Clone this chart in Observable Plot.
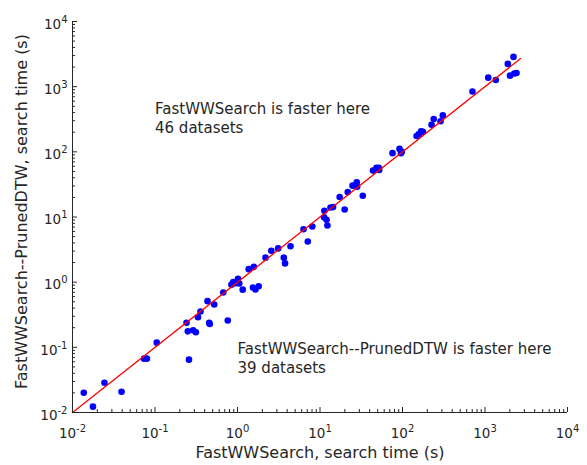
<!DOCTYPE html>
<html>
<head>
<meta charset="utf-8">
<script src="https://cdn.jsdelivr.net/npm/d3@7"></script>
<script src="https://cdn.jsdelivr.net/npm/@observablehq/plot@0.6"></script>
<style>
  body { margin: 0; background: #fff; }
  #chart svg { display: block; }
</style>
</head>
<body>
<div id="chart"></div>
<script>
// FastWWSearch search time (s) for each dataset
const fastWW = [
  0.0137, 0.0177, 0.0244, 0.0393, 0.0736, 0.0797, 0.105, 0.241, 0.250, 0.290,
  0.313, 0.258, 0.332, 0.356, 0.433, 0.522, 0.454, 0.461, 0.762, 0.672,
  0.845, 0.887, 1.014, 1.05, 0.946, 1.157, 1.367, 1.577, 1.54, 1.652,
  1.807, 2.185, 2.57, 3.11, 3.64, 3.77, 4.39, 6.31, 8.07, 7.11,
  11.3, 11.2, 12.0, 12.3, 13.4, 14.4, 17.3, 19.9, 21.7, 24.8,
  27.9, 28.2, 33.0, 43.9, 48.4, 51.6, 52.2, 75.7, 92.0, 95.9,
  98.1, 148, 158, 168, 177, 225, 239, 289, 308, 705,
  1094, 1352, 1890, 2215, 2010, 2265, 2410
];
// FastWWSearch--PrunedDTW search time (s) for each dataset
const pruned = [
  0.0201, 0.0123, 0.0286, 0.0208, 0.067, 0.067, 0.118, 0.238, 0.176, 0.183,
  0.170, 0.0647, 0.290, 0.354, 0.511, 0.454, 0.237, 0.228, 0.258, 0.695,
  0.916, 1.0, 1.125, 0.955, 0.966, 0.767, 1.585, 1.719, 0.828, 0.773,
  0.867, 2.38, 3.03, 3.30, 2.38, 1.94, 3.56, 6.47, 7.14, 4.20,
  12.5, 9.89, 9.06, 7.40, 14.0, 14.2, 20.3, 13.0, 24.1, 30.3,
  34.2, 29.2, 21.2, 51.5, 56.7, 56.7, 52.8, 95.5, 111, 95.5,
  100, 175, 187, 207, 203, 260, 318, 294, 362, 844,
  1375, 1268, 2235, 2864, 1476, 1596, 1625
];
// diagonal reference line y = x
const diagX = [0.01, 2700];
const diagY = [0.01, 2700];
// axis ticks
const majorTicks = [1e-2, 1e-1, 1e0, 1e1, 1e2, 1e3, 1e4];
const tickLabels = ["10^-2", "10^-1", "10^0", "10^1", "10^2", "10^3", "10^4"];
const minorTicks = d3.scaleLog().domain([1e-2, 1e4]).ticks().filter(t => !majorTicks.some(m => Math.abs(m - t) / m < 1e-9));
const annotations = [
  {x: 0.1, y: 335, text: "FastWWSearch is faster here\n46 datasets"},
  {x: 1, y: 0.069, text: "FastWWSearch--PrunedDTW is faster here\n39 datasets"}
];

const W = 587, H = 465, mL = 72, mR = 20, mT = 21, mB = 53;
const plotW = W - mL - mR, plotH = H - mT - mB;
const ink = "#262626";
const points = fastWW.map((x, i) => ({x, y: pruned[i]}));
const diag = diagX.map((x, i) => ({x, y: diagY[i]}));
const labelOf = t => tickLabels[majorTicks.indexOf(t)];

const chart = Plot.plot({
  width: W, height: H,
  marginLeft: mL, marginRight: mR, marginTop: mT, marginBottom: mB,
  style: {fontFamily: "DejaVu Sans", color: ink, background: "#fff"},
  x: {type: "log", domain: [1e-2, 1e4]},
  y: {type: "log", domain: [1e-2, 1e4]},
  marks: [
    Plot.dot(points, {x: "x", y: "y", r: 3.3, fill: "#0000ff", stroke: "none"}),
    Plot.line(diag, {x: "x", y: "y", stroke: "#ff0000", strokeWidth: 1.3}),
    // axis lines
    Plot.ruleX([1e-2], {stroke: ink, strokeWidth: 1}),
    Plot.ruleY([1e-2], {stroke: ink, strokeWidth: 1}),
    // inward tick marks
    Plot.tickX(majorTicks, {x: d => d, insetTop: plotH - 5, stroke: ink}),
    Plot.tickX(minorTicks, {x: d => d, insetTop: plotH - 3, stroke: ink}),
    Plot.tickY(majorTicks, {y: d => d, insetRight: plotW - 5, stroke: ink}),
    Plot.tickY(minorTicks, {y: d => d, insetRight: plotW - 3, stroke: ink}),
    // tick labels
    Plot.axisX(majorTicks, {tickSize: 0, tickPadding: 15.5, fontSize: 13.5, tickFormat: labelOf, label: null, fill: ink}),
    Plot.axisY(majorTicks, {tickSize: 0, tickPadding: 5, fontSize: 13.5, dy: 3, tickFormat: labelOf, label: null, fill: ink}),
    // axis titles
    Plot.text(["FastWWSearch, search time (s)"], {frameAnchor: "bottom", textAnchor: "middle", dy: 45, lineAnchor: "bottom", fontSize: 16, fill: ink}),
    Plot.text(["FastWWSearch--PrunedDTW, search time (s)"], {frameAnchor: "left", textAnchor: "middle", dx: -51, dy: -5.5, rotate: -90, lineAnchor: "middle", fontSize: 16, fill: ink}),
    // annotations
    Plot.text(annotations, {x: "x", y: "y", text: "text", textAnchor: "start", lineAnchor: "middle", lineHeight: 1.27, fontSize: 15, fill: ink})
  ]
});

d3.select(chart)
  .selectAll('g[aria-label="x-axis tick label"] text, g[aria-label="y-axis tick label"] text')
  .each(function () {
    const parts = this.textContent.split("^");
    if (parts.length < 2) return;
    this.textContent = parts[0];
    d3.select(this).append("tspan").attr("dy", -6).attr("font-size", 10).text(parts[1]);
  });

document.getElementById("chart").appendChild(chart);
</script>
</body>
</html>
